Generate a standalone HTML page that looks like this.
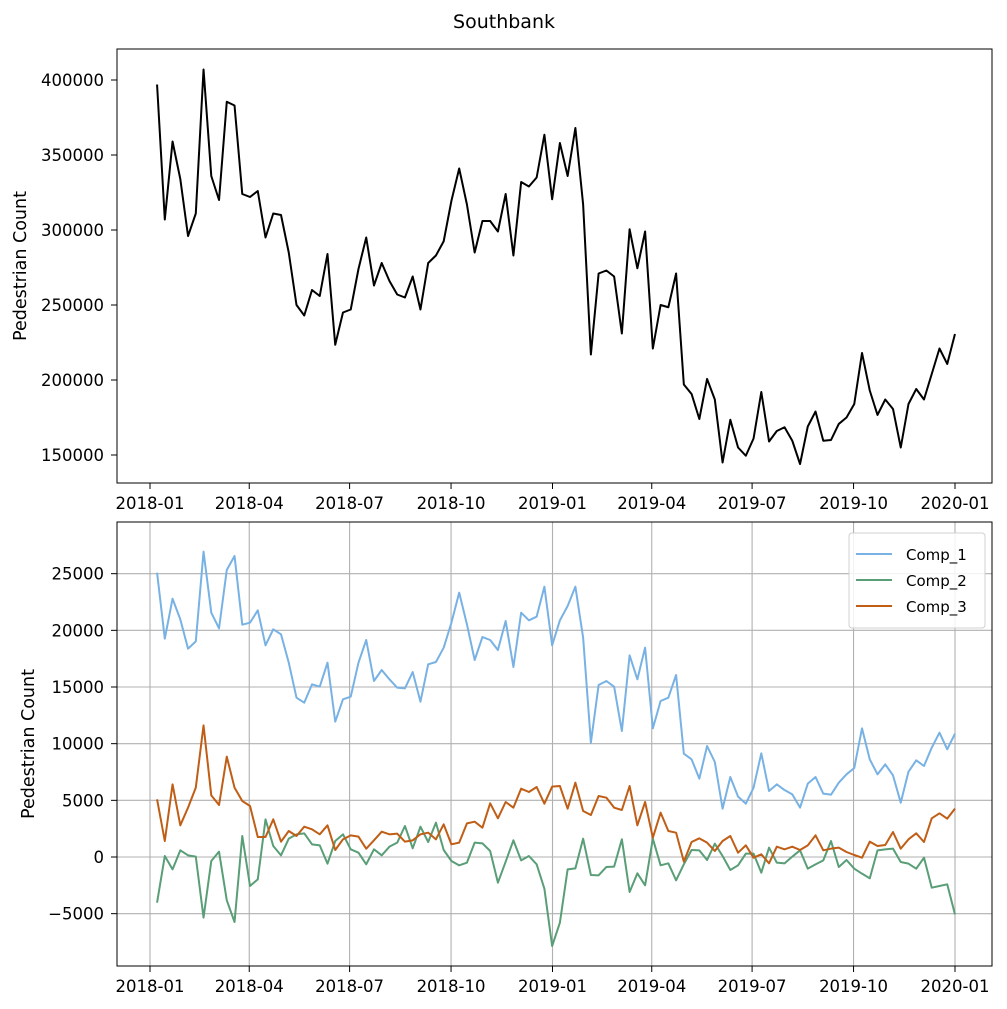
<!DOCTYPE html>
<html><head><meta charset="utf-8"><style>
body{margin:0;background:#fff;}
svg{display:block;font-family:"DejaVu Sans","Liberation Sans",sans-serif;}
</style></head><body>
<svg id="chart" width="1007" height="1009" viewBox="0 0 1007 1009" xmlns="http://www.w3.org/2000/svg">
<rect width="1007" height="1009" fill="#fff"/>
<text x="504" y="28" text-anchor="middle" font-size="19">Southbank</text>
</svg>
<script>
const xTickLabels = ["2018-01","2018-04","2018-07","2018-10","2019-01","2019-04","2019-07","2019-10","2020-01"];
const xTickDays = [0,90,181,273,365,455,546,638,730];
const startDay = 6.4;
const stepDays = 7.025;
const totalCount = [397000,307000,359000,334000,296000,311000,407000,336000,320000,385500,383000,324000,322000,326000,295000,311000,310000,285000,250000,243000,260000,256000,284000,223500,245000,247000,274000,295000,263000,278000,266000,257000,255000,269000,247000,278000,283000,292500,319500,341000,317000,285000,306000,306000,299000,324000,283000,332000,329000,335000,363500,320500,
358000,336000,368000,317000,217000,271000,273000,269000,231000,300500,274500,299000,221000,250000,248500,271000,197000,190700,174000,200700,187000,145000,173500,155000,149500,161000,192000,159000,166000,168500,159500,144000,169000,179000,159500,160000,170700,175000,184000,218000,193000,176700,187000,180700,155000,184000,194000,187000,204000,221000,210700,230700];
const comp1 = [25088,19264,22794,20970,18382,19029,26941,21558,20176,25323,26558,20500,20676,21764,18676,20088,19647,17147,14058,13617,15235,15029,17147,11941,13911,14147,
17147,19147,15529,16500,15676,14941,14882,16323,13705,17000,17205,18470,20676,23323,20529,17382,19411,19147,18264,20823,16764,21558,20882,21205,23852,18676,
20882,22147,23852,19353,10088,15176,15529,15029,11117,17794,15676,18470,11352,13764,14058,16058,9117,8617,6911,9794,8382,4265,7058,5323,4706,6117,
9147,5823,6411,5911,5529,4353,6470,7058,5588,5500,6558,7294,7852,11352,8617,7294,8176,7205,4794,7529,8529,8029,9647,10970,9500,10882];
const comp2 = [-4029,88,-1088,588,147,29,-5353,-353,471,-3823,-5735,1853,-2559,-1970,3323,970,147,1618,2000,2088,1118,1029,-588,1412,2000,676,
382,-647,676,147,912,1265,2735,765,2676,1323,3029,618,-353,-735,-500,1265,1206,529,-2265,-412,1470,-294,88,-647,-2794,-7853,
-5794,-1088,-1000,1618,-1588,-1618,-882,-853,1559,-3088,-1441,-2500,1618,-735,-559,-2059,-647,618,588,-265,1176,88,-1147,-735,294,294,
-1382,824,-500,-559,29,588,-1029,-647,-294,1412,-882,-265,-1029,-1470,-1882,588,676,735,-441,-588,-1029,-59,-2706,-2559,-2412,-5059];
const comp3 = [5088,1412,6412,2794,4353,6117,11617,5441,4588,8853,6117,4941,4500,1765,1765,3323,1353,2294,1853,2676,2441,2000,2794,617,1559,1912,
1794,735,1470,2235,2000,2059,1353,1470,2000,2147,1559,2882,1118,1265,2970,3117,2588,4735,3412,4853,4353,6029,5735,6176,4706,6205,
6265,4265,6559,4059,3706,5382,5235,4353,4147,6265,2794,4853,1706,3912,2294,2147,-412,1323,1647,1265,529,1412,1853,382,1029,-59,
235,-559,912,676,912,618,1029,1912,588,735,824,441,176,-59,1353,970,1059,2206,735,1559,2088,1323,3412,3853,3382,4265];
const topTicks = [150000,200000,250000,300000,350000,400000];
const botTicks = [-5000,0,5000,10000,15000,20000,25000];
const seriesNames = ["Comp_1","Comp_2","Comp_3"];
const seriesColors = ["#78b2e4","#599e76","#c05e16"];

const NS="http://www.w3.org/2000/svg";
const svg=document.getElementById('chart');
function mk(tag,attrs,parent){const e=document.createElementNS(NS,tag);for(const k in attrs)e.setAttribute(k,attrs[k]);(parent||svg).appendChild(e);return e;}
const L=117,R=992;
const xDay=d=>150+d*(955-150)/730;
const xIdx=i=>xDay(startDay+i*stepDays);
function axes(top,bottom,vmin,vmax,ticks,grid,name){
  const y=v=>bottom-(v-vmin)/(vmax-vmin)*(bottom-top);
  const g=mk('g',{});
  
  
  if(grid){
    xTickDays.forEach(d=>{const l=mk('line',{x1:xDay(d),x2:xDay(d),y1:top,y2:bottom,stroke:'#b0b0b0','stroke-width':1.1},g);
      
      });
    ticks.forEach(t=>{const l=mk('line',{x1:L,x2:R,y1:y(t),y2:y(t),stroke:'#b0b0b0','stroke-width':1.1},g);
      
      });
  }
  xTickDays.forEach((d,k)=>{
    mk('line',{x1:xDay(d),x2:xDay(d),y1:bottom,y2:bottom+6,stroke:'#000','stroke-width':1},g);
    const t=mk('text',{x:xDay(d),y:bottom+26,'text-anchor':'middle','font-size':16.5},g);
    t.textContent=xTickLabels[k];
    
    
  });
  ticks.forEach(v=>{
    mk('line',{x1:L-6,x2:L,y1:y(v),y2:y(v),stroke:'#000','stroke-width':1},g);
    const t=mk('text',{x:L-13,y:y(v)+6,'text-anchor':'end','font-size':16.5},g);
    t.textContent=String(v).replace('-','\u2212');
    
    
  });
  const yl=mk('text',{x:0,y:0,'text-anchor':'middle','font-size':17.5,transform:`translate(${name==='top-axes'?26:34},${(top+bottom)/2}) rotate(-90)`},g);
  yl.textContent='Pedestrian Count';
  
  
  return {y,g};
}
function line(vals,y,color,name){
  const p=mk('polyline',{points:vals.map((v,i)=>xIdx(i).toFixed(2)+','+y(v).toFixed(2)).join(' '),fill:'none',stroke:color,'stroke-width':2,'stroke-linejoin':'round'});
  
  
}
const A=axes(49,483,131333,420667,topTicks,false,'top-axes');
line(totalCount,A.y,'#000','total-count-line');
const f1=mk('rect',{x:L,y:49,width:R-L,height:434,fill:'none',stroke:'#000','stroke-width':1});


const B=axes(522,966,-9618,29559,botTicks,true,'bottom-axes');
line(comp1,B.y,seriesColors[0],'comp-1-line');
line(comp2,B.y,seriesColors[1],'comp-2-line');
line(comp3,B.y,seriesColors[2],'comp-3-line');
const f2=mk('rect',{x:L,y:522,width:R-L,height:444,fill:'none',stroke:'#000','stroke-width':1});


const lg=mk('g',{});


mk('rect',{x:849,y:533,width:136,height:95,rx:3,fill:'#fff','fill-opacity':0.85,stroke:'#d0d0d0'},lg);
seriesNames.forEach((n,k)=>{
  const yy=554+k*26;
  mk('line',{x1:856,x2:892,y1:yy,y2:yy,stroke:seriesColors[k],'stroke-width':2},lg);
  const t=mk('text',{x:906,y:yy+6,'font-size':15},lg);
  t.textContent=n;
  
  
});
</script>
</body></html>
